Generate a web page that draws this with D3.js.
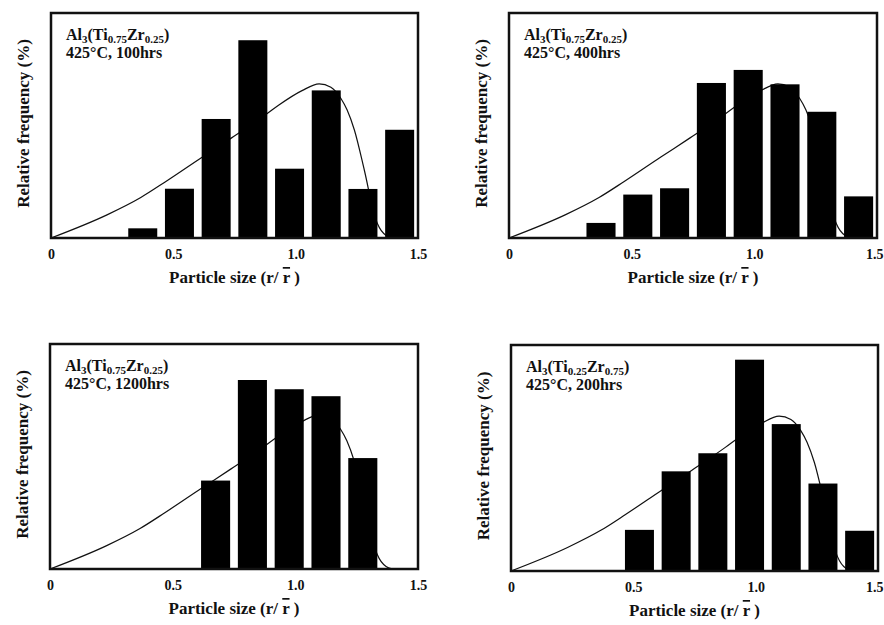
<!DOCTYPE html>
<html>
<head>
<meta charset="utf-8">
<script src="https://cdn.jsdelivr.net/npm/d3@7"></script>
<style>
  html, body { margin: 0; padding: 0; background: #fff; }
  svg { display: block; }
  text { font-family: "Liberation Serif", "Times New Roman", serif; font-weight: bold; fill: #111; }
</style>
</head>
<body>
<svg id="chart" width="884" height="625"></svg>
<script>
// ---------- data ----------
const binCenters = [0.375, 0.525, 0.675, 0.825, 0.975, 1.125, 1.275, 1.425];
const freqTi75_100h  = [4.3, 21.9, 52.9, 87.9, 30.8, 65.6, 21.8, 48.1];
const freqTi75_400h  = [6.7, 19.3, 22.1, 68.9, 74.7, 68.3, 56.1, 18.5];
const freqTi75_1200h = [0, 0, 39.3, 84.0, 79.9, 76.8, 49.3, 0];
const freqTi25_200h  = [0, 18.2, 44.1, 52.1, 93.5, 65.0, 38.7, 17.8];

const curveR   = [0, 0.231, 0.367, 0.468, 0.619, 0.738, 0.876, 0.93, 1.026, 1.096, 1.144, 1.185, 1.21, 1.24, 1.281, 1.325, 1.36, 1.40, 1.5];
const curveVal = [0, 10.4, 18.0, 25.0, 36.0, 44.5, 54.7, 59.0, 65.5, 68.5, 67, 62, 57, 48, 30, 9, 2, 0, 0];

const xTicks = [0, 0.5, 1.0, 1.5];
const tickLabels = ["0", "0.5", "1.0", "1.5"];
const xTitle = "Particle size (r/ ";
const yTitle = "Relative frequency (%)";

const panelAlloy = [["0.75", "0.25"], ["0.75", "0.25"], ["0.75", "0.25"], ["0.25", "0.75"]];
const panelCond  = ["425°C, 100hrs", "425°C, 400hrs", "425°C, 1200hrs", "425°C, 200hrs"];
const panelFreq  = [freqTi75_100h, freqTi75_400h, freqTi75_1200h, freqTi25_200h];

// ---------- layout ----------
const layout = [
  {left: 51,  top: 13,  w: 367, h: 225},
  {left: 509, top: 13,  w: 368, h: 225},
  {left: 50,  top: 344, w: 368, h: 225},
  {left: 511, top: 345, w: 367, h: 226}
];
const binWidth = 0.15, barFrac = 0.79;
const pageW = 884;

const svg = d3.select("#chart");

panelFreq.forEach((vals, i) => {
  const L = layout[i];
  const g = svg.append("g").attr("transform", `translate(${L.left},${L.top})`);
  const x = d3.scaleLinear().domain([0, 1.5]).range([0, L.w]);
  const y = d3.scaleLinear().domain([0, 100]).range([L.h, 0]);

  // theoretical curve (behind bars)
  const pts = curveR.map((r, k) => [r, curveVal[k]]);
  g.append("path")
    .datum(pts)
    .attr("fill", "none")
    .attr("stroke", "#111")
    .attr("stroke-width", 1.2)
    .attr("d", d3.line().x(d => x(d[0])).y(d => y(d[1])).curve(d3.curveMonotoneX));

  // bars
  const bw = x(binWidth * barFrac) - x(0);
  g.selectAll("rect.bar")
    .data(binCenters.map((c, k) => ({c, v: vals[k]})).filter(d => d.v > 0))
    .enter().append("rect")
    .attr("class", "bar")
    .attr("x", d => x(d.c) - bw / 2)
    .attr("width", bw)
    .attr("y", d => y(d.v))
    .attr("height", d => y(0) - y(d.v))
    .attr("fill", "#000");

  // frame
  g.append("rect")
    .attr("x", 0).attr("y", 0).attr("width", L.w).attr("height", L.h)
    .attr("fill", "none").attr("stroke", "#111").attr("stroke-width", 2.5);

  // x axis labels
  const ax = g.append("g").attr("transform", `translate(0,${L.h})`)
    .call(d3.axisBottom(x).tickValues(xTicks).tickFormat((d, k) => tickLabels[k]).tickSize(0).tickPadding(11));
  ax.select(".domain").remove();
  ax.selectAll("text")
    .attr("font-family", "Liberation Serif, Times New Roman, serif")
    .attr("font-weight", "bold").attr("font-size", 14).attr("fill", "#111");
  // keep labels inside the page
  ax.selectAll("text").each(function(d) {
    const bb = this.getBBox();
    const absRight = L.left + x(d) + bb.x + bb.width;
    if (absRight > pageW - 1) d3.select(this).attr("dx", -(absRight - pageW + 1));
  });

  // x title
  const xt = g.append("text")
    .attr("x", L.w / 2).attr("y", L.h + 45)
    .attr("text-anchor", "middle").attr("font-size", 17);
  xt.append("tspan").text(xTitle);
  xt.append("tspan").text("r").style("text-decoration", "overline");
  xt.append("tspan").text(" )");

  // y title
  g.append("text")
    .attr("transform", `translate(-22,${L.h / 2 - 2}) rotate(-90)`)
    .attr("text-anchor", "middle").attr("font-size", 17)
    .text(yTitle);

  // annotation
  const a = panelAlloy[i];
  const t1 = g.append("text").attr("x", 15).attr("y", 27).attr("font-size", 16);
  t1.append("tspan").text("Al");
  t1.append("tspan").text("3").attr("font-size", 11).attr("dy", 3);
  t1.append("tspan").text("(Ti").attr("dy", -3);
  t1.append("tspan").text(a[0]).attr("font-size", 11).attr("dy", 3);
  t1.append("tspan").text("Zr").attr("dy", -3);
  t1.append("tspan").text(a[1]).attr("font-size", 11).attr("dy", 3);
  t1.append("tspan").text(")").attr("dy", -3);
  g.append("text").attr("x", 15).attr("y", 45).attr("font-size", 16).text(panelCond[i]);
});
</script>
</body>
</html>
